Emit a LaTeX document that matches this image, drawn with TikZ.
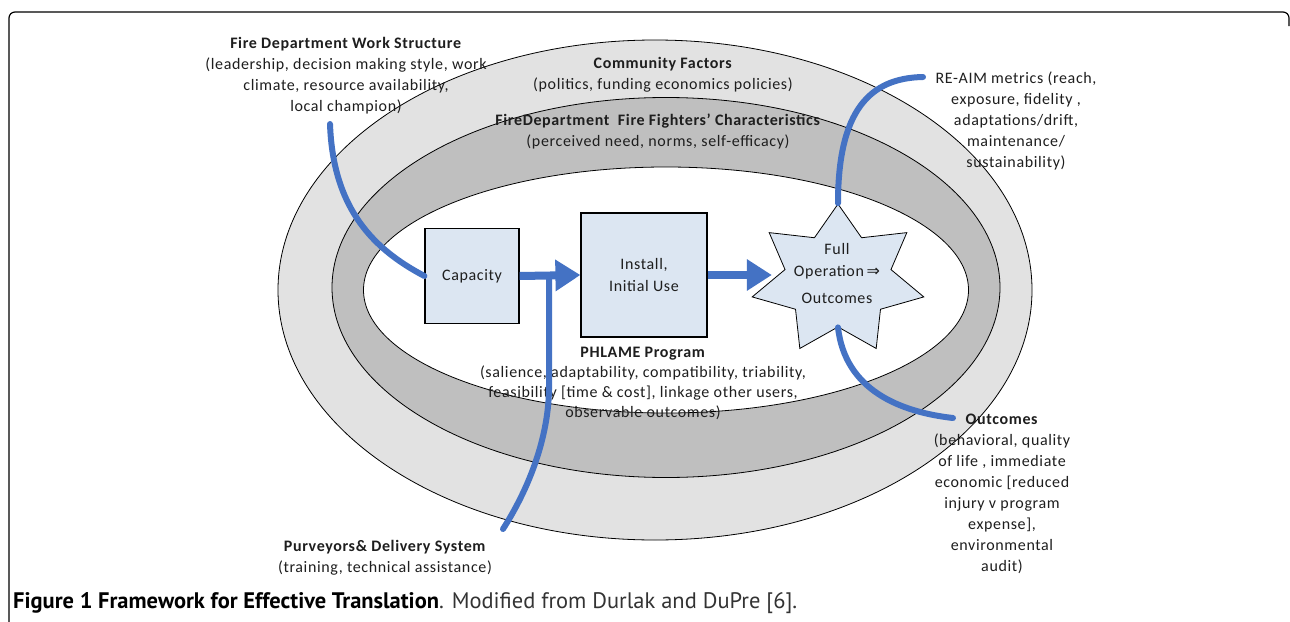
\documentclass[tikz,border=0pt]{standalone}
\usepackage{fontspec}
\setmainfont{Carlito}[LetterSpace=4]
\newfontfamily\capfont{PT Sans}
\newfontfamily\symfont{DejaVu Sans}
\usetikzlibrary{shapes.geometric,arrows.meta}
\definecolor{bandlight}{RGB}{226,226,226}
\definecolor{banddark}{RGB}{191,191,191}
\definecolor{boxfill}{RGB}{220,230,242}
\definecolor{flowblue}{RGB}{68,114,196}
\definecolor{txt}{RGB}{30,30,30}
\begin{document}
\begin{tikzpicture}[x=1pt,y=-1pt,
  ring/.style={ellipse, draw=black, line width=0.8pt, inner sep=0pt},
  stagebox/.style={rectangle, draw=black, line width=1.2pt, fill=boxfill, inner sep=0pt, align=center, text=txt, font=\fontsize{16}{22}\selectfont},
  lbl/.style={align=center, text=txt, font=\fontsize{16}{21}\selectfont, inner sep=0pt},
  flow/.style={draw=flowblue, line width=8pt, -{Triangle[length=25pt,width=30pt]}},
  feed/.style={draw=flowblue, line width=6pt, line cap=round},
]
\fill[white] (0,0) rectangle (1290,621);
\useasboundingbox (0,0) rectangle (1290,621);

% frame
\draw[line width=1.2pt, rounded corners=6pt] (9,622) -- (9,12) -- (1289,12) -- (1289,26);

% rings
\node[ring, fill=bandlight, minimum width=754pt, minimum height=500pt] (outer) at (655,290) {};
\node[ring, fill=banddark, minimum width=668pt, minimum height=380pt] (middle) at (666,287.5) {};
\node[ring, fill=white, minimum width=605pt, minimum height=246pt] (inner) at (666,290) {};

% labels
\node[lbl] (fdws) at (346,76) {\textbf{Fire Department Work Structure}\\(leadership,  decision making style, work\\climate, resource availability,\\local champion)};
\node[lbl] (community) at (663,75) {\textbf{Community Factors}\\(politics, funding economics policies)};
\node[lbl] (firefighters) at (658,131) {\textbf{FireDepartment\ \ Fire Fighters' Characteristics}\\(perceived need, norms, self-efficacy)};
\node[lbl] (reaim) at (1016,121) {RE-AIM metrics (reach,\\exposure, fidelity ,\\adaptations/drift,\\maintenance/\\sustainability)};
\node[lbl, font=\fontsize{16}{20}\selectfont] (phlame) at (643,383) {\textbf{PHLAME Program}\\(salience, adaptability, compatibility, triability,\\feasibility [time \& cost], linkage other users,\\observable outcomes)};
\node[lbl] (outcomes) at (1002,493.5) {\textbf{Outcomes}\\(behavioral, quality\\of life , immediate\\economic [reduced\\injury v program\\expense],\\environmental\\audit)};
\node[lbl] (purveyors) at (385,558) {\textbf{Purveyors\& Delivery System}\\(training, technical assistance)};

% stages
\node[stagebox, minimum width=94pt, minimum height=95pt] (cap) at (472,276) {Capacity};
\node[stagebox, minimum width=126pt, minimum height=124pt] (inst) at (644,275) {Install,\\Initial Use};
\begin{scope}[shift={(838,280)}, xscale=1.158]
\node[star, star points=7, star point ratio=1.62, minimum size=152pt, inner sep=0pt, draw=black, line width=0.8pt, fill=boxfill, transform shape] (star) at (0,0) {};
\end{scope}
\node[lbl] (startext) at (837,274) {Full\\Operation\,{\symfont\fontsize{16}{16}\selectfont ⇒}\\[7pt]Outcomes};

% caption
\node[anchor=west, inner sep=0pt, text=black] (caption) at (13,603) {\resizebox{784pt}{!}{\capfont\fontsize{21}{24}\selectfont\textbf{Figure 1 Framework for Effective Translation}{\color{black!80}. Modified from Durlak and DuPre [6].}}};

% connectors
\coordinate (fdwsTip) at (330,124);
\coordinate (reTip) at (923,77);
\coordinate (outTip) at (953,418);
\coordinate (purvTip) at (503,529);
\coordinate (join) at (549,278);

\draw[flow] (cap.east) -- (inst.west);
\draw[flow] (inst.east) -- (inst.east -| star.west);
\draw[feed] (fdwsTip) .. controls (333,210) and (375,250) .. (cap.west);
\draw[feed] (join) -- (549,390) .. controls (548,440) and (528,490) .. (purvTip);
\draw[feed] (star.north) .. controls (838,110) and (870,78) .. (reTip);
\draw[feed] (star.south) .. controls (845,390) and (900,412) .. (outTip);
\end{tikzpicture}
\end{document}
